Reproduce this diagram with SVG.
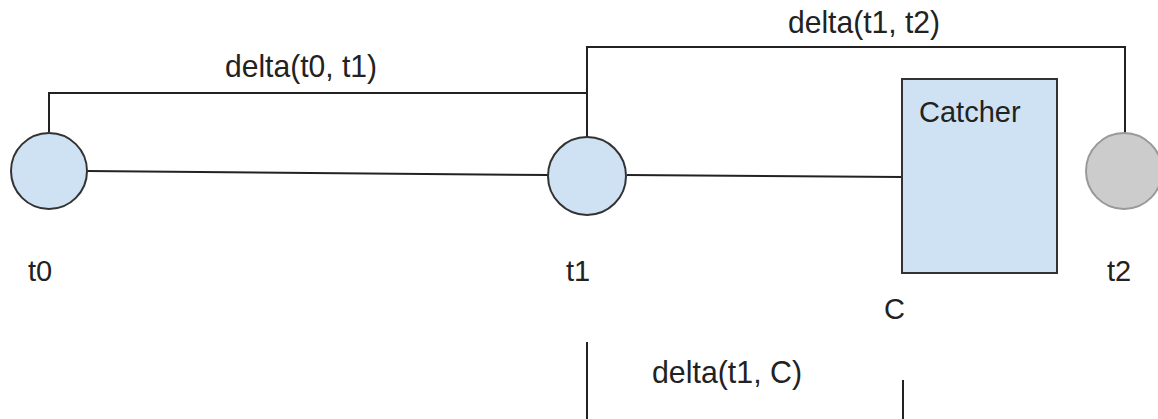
<svg xmlns="http://www.w3.org/2000/svg" width="1158" height="419" viewBox="0 0 1158 419">
<style>
.ln{stroke:#222;stroke-width:2;fill:none}
.nd{fill:#cfe2f3;stroke:#333;stroke-width:2}
.gr{fill:#cccccc;stroke:#999;stroke-width:2}
.tx{font-family:"Liberation Sans",Arial,sans-serif;fill:#222}
.lb{font-size:32px}
.sm{font-size:29px}
</style>
<rect width="1158" height="419" fill="#fff"/>
<g id="connectors">
<polyline class="ln" points="49,132 49,93 586,93"/>
<polyline class="ln" points="587,137 587,47 1125,47 1125,133"/>
<line class="ln" x1="87" y1="171" x2="548" y2="175" stroke="#444"/>
<line class="ln" x1="627" y1="175" x2="902" y2="177"/>
<line class="ln" x1="587" y1="342" x2="587" y2="419"/>
<line class="ln" x1="903" y1="380" x2="903" y2="419"/>
<text class="tx lb" x="225" y="77" textLength="152" lengthAdjust="spacingAndGlyphs">delta(t0, t1)</text>
<text class="tx lb" x="788" y="33" textLength="152" lengthAdjust="spacingAndGlyphs">delta(t1, t2)</text>
<text class="tx lb" x="652" y="383" textLength="150" lengthAdjust="spacingAndGlyphs">delta(t1, C)</text>
</g>
<g id="t0">
<circle class="nd" cx="49" cy="171" r="38"/>
<text class="tx sm" x="28" y="281">t0</text>
</g>
<g id="t1">
<circle class="nd" cx="587" cy="176" r="39"/>
<text class="tx sm" x="566" y="281">t1</text>
</g>
<g id="catcher">
<rect class="nd" x="902" y="79" width="155" height="194"/>
<text class="tx sm" x="919" y="122">Catcher</text>
<text class="tx sm" x="884" y="319">C</text>
</g>
<g id="t2">
<circle class="gr" cx="1124" cy="171" r="38"/>
<text class="tx sm" x="1107" y="281">t2</text>
</g>
</svg>
